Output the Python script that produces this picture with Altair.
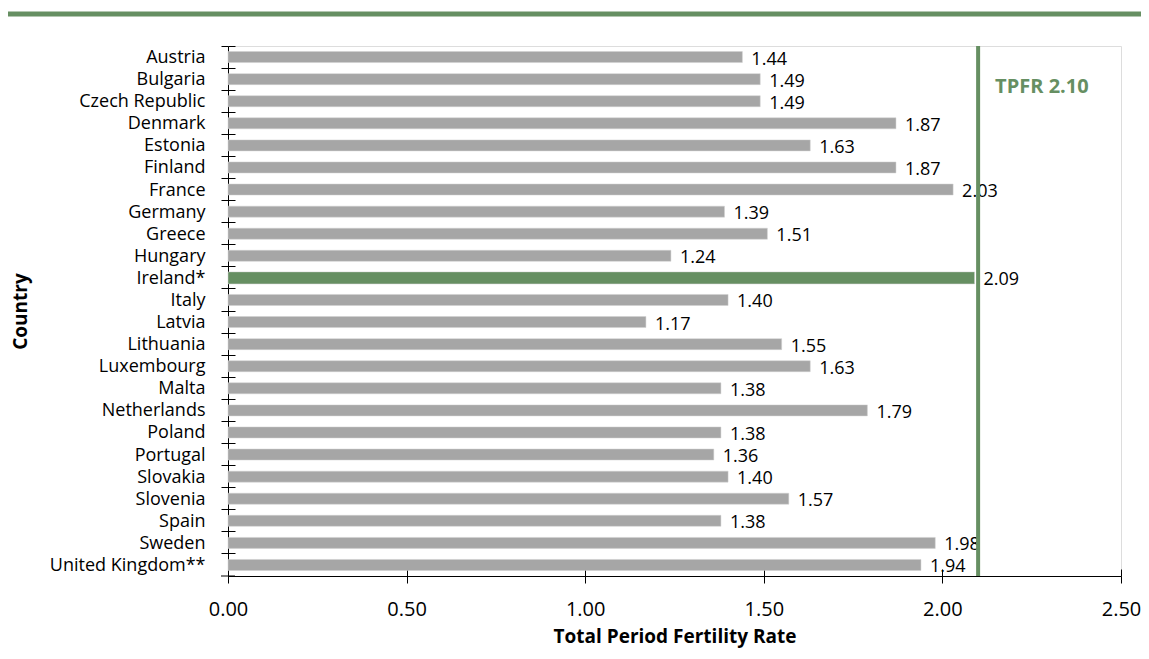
import altair as alt
import pandas as pd

countries = ["Austria", "Bulgaria", "Czech Republic", "Denmark", "Estonia", "Finland",
             "France", "Germany ", "Greece", "Hungary", "Ireland*", "Italy", "Latvia",
             "Lithuania", "Luxembourg", "Malta", "Netherlands", "Poland", "Portugal",
             "Slovakia", "Slovenia", "Spain", "Sweden", "United Kingdom**"]
values = [1.44, 1.49, 1.49, 1.87, 1.63, 1.87, 2.03, 1.39, 1.51, 1.24, 2.09, 1.40, 1.17,
          1.55, 1.63, 1.38, 1.79, 1.38, 1.36, 1.40, 1.57, 1.38, 1.98, 1.94]
x_ticks = [0, 0.5, 1.0, 1.5, 2.0, 2.5]
tpfr = 2.10
tpfr_label = "TPFR 2.10"
highlight = "Ireland*"

GREEN = "#668f62"
GRAY = "#a6a6a6"
FONT = "Open Sans"
W, H = 893, 530
PL, PT, PR, PB = 220, 38, 20, 75

df = pd.DataFrame({"country": countries, "value": values})

yscale = alt.Scale(domain=countries, paddingInner=0, paddingOuter=0)
xscale = alt.Scale(domain=[0, 2.5], nice=False, zero=True)

y_main = alt.Y("country:N", scale=yscale, sort=countries,
               axis=alt.Axis(title="Country", labelFontSize=18, labelFont=FONT,
                             labelColor="black", tickColor="black", domainColor="black",
                             tickSize=7, labelPadding=16, bandPosition=0,
                             labelBaseline="middle", labelOffset=1,
                             titleFont=FONT, titleFontSize=19, titleFontWeight="bold",
                             titleColor="black",
                             titleAngle=-90, titleX=-208, titleY=H / 2,
                             titleAlign="center", titleBaseline="middle"))
x_main = alt.X("value:Q", scale=xscale,
               axis=alt.Axis(title="Total Period Fertility Rate", values=x_ticks, format=".2f",
                             grid=False, labelFontSize=20, labelFont=FONT, labelColor="black",
                             labelFlush=False, labelBaseline="alphabetic",
                             tickColor="black", domainColor="black", tickSize=7,
                             labelPadding=32, titleFont=FONT, titleFontSize=19,
                             titleColor="black",
                             titleFontWeight="bold", titleY=66, titleBaseline="alphabetic"))

bars = alt.Chart(df).mark_bar(stroke="#d0d0d0", strokeWidth=0.5).encode(
    x=x_main,
    y=y_main,
    color=alt.condition(alt.datum.country == highlight, alt.value(GREEN), alt.value(GRAY)),
    size=alt.condition(alt.datum.country == highlight, alt.value(12), alt.value(11)),
)

labels = alt.Chart(df).mark_text(align="left", baseline="alphabetic", dx=9, dy=7.5,
                                 fontSize=18, font=FONT, color="black").encode(
    x=alt.X("value:Q", scale=xscale,
            axis=alt.Axis(orient="top", offset=-H, labels=False, domain=False, title=None,
                          values=x_ticks, tickSize=7, tickColor="black", grid=False)),
    y=alt.Y("country:N", scale=yscale, sort=countries,
            axis=alt.Axis(orient="right", offset=-W, labels=False, domain=False, title=None,
                          tickSize=7, tickColor="black", bandPosition=0)),
    text=alt.Text("value:Q", format=".2f"),
)

tpfr_df = pd.DataFrame({"v": [tpfr], "t": [tpfr_label]})
rule = alt.Chart(tpfr_df).mark_rule(color=GREEN, strokeWidth=4).encode(
    x=alt.X("v:Q", scale=xscale, axis=None))
rule_text = alt.Chart(tpfr_df).mark_text(align="left", baseline="alphabetic", dx=17,
                                         fontSize=20, font=FONT, fontWeight="bold",
                                         color=GREEN).encode(
    x=alt.X("v:Q", scale=xscale, axis=None), y=alt.value(47), text="t:N")

band = alt.Chart(tpfr_df).mark_rule(color=GREEN, strokeWidth=5).encode(
    x=alt.value(-PL), x2=alt.value(W + PR), y=alt.value(-32))

# closing cross tick at the bottom end of the category axis
end_tick = alt.Chart(tpfr_df).mark_rule(color="black", strokeWidth=1).encode(
    x=alt.value(-7), x2=alt.value(7), y=alt.value(H))

chart = alt.layer(bars, labels, rule, rule_text, band, end_tick).resolve_axis(
    x="independent", y="independent"
).properties(
    width=W, height=H,
    autosize=alt.AutoSizeParams(type="none"),
    padding={"left": PL, "top": PT, "right": PR, "bottom": PB},
).configure_view(stroke="#bfbfbf", strokeWidth=1).configure(background="white")

chart.save("out.html", embed_options={"renderer": "svg", "actions": False})
